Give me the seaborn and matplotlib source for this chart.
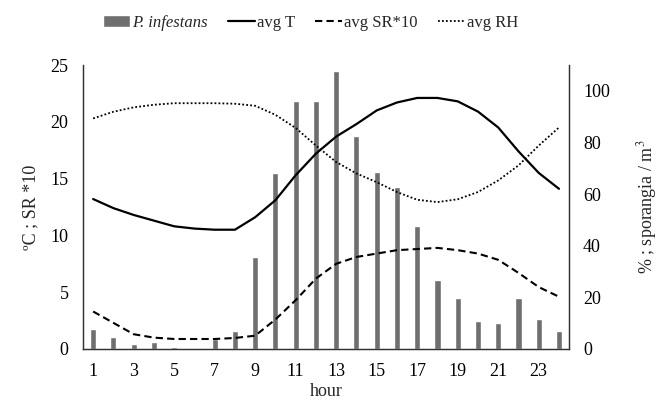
import matplotlib.pyplot as plt
import pandas as pd
import seaborn as sns

hours = list(range(1, 25))
sporangia = [7.7, 4.8, 1.9, 2.8, 0.9, 0.0, 3.7, 6.9, 35.6, 68.0, 95.9, 95.9,
             107.7, 82.6, 68.6, 62.9, 47.7, 26.9, 19.8, 10.7, 9.9, 19.8, 11.8, 6.9]
avg_t = [13.2, 12.4, 11.8, 11.3, 10.8, 10.6, 10.5, 10.5, 11.6, 13.1, 15.3, 17.2,
         18.7, 19.8, 21.0, 21.7, 22.1, 22.1, 21.8, 20.9, 19.5, 17.4, 15.5, 14.1]
avg_sr10 = [3.3, 2.3, 1.3, 1.0, 0.88, 0.88, 0.88, 0.97, 1.17, 2.6, 4.3, 6.2,
            7.5, 8.1, 8.4, 8.7, 8.8, 8.9, 8.7, 8.4, 7.85, 6.7, 5.45, 4.6]
avg_rh = [89.3, 91.9, 93.6, 94.6, 95.2, 95.2, 95.2, 95.0, 94.2, 90.7, 85.6, 78.8,
          72.4, 68.0, 64.6, 60.8, 57.8, 56.9, 58.0, 60.8, 65.3, 71.1, 78.8, 85.8]

df = pd.DataFrame({"hour": hours, "sporangia": sporangia, "T": avg_t,
                   "SR": avg_sr10, "RH": avg_rh})

sns.set_theme(style="white")
plt.rcParams["font.family"] = ["Liberation Serif", "DejaVu Serif"]
plt.rcParams["mathtext.fontset"] = "stix"

fig = plt.figure(figsize=(6.61, 4.05), dpi=100)
ax = fig.add_axes([0.1256, 0.1383, 0.7354, 0.7012])
ax2 = ax.twinx()

# bars + RH on the right axis
sns.barplot(data=df, x="hour", y="sporangia", native_scale=True, width=0.3,
            color="#6f6f6f", saturation=1, ax=ax2, label="P. infestans")
sns.lineplot(data=df, x="hour", y="RH", ax=ax2, color="black", lw=1.3,
             linestyle=(0, (1, 1.2)), label="avg RH")

# temperature and radiation on the left axis
sns.lineplot(data=df, x="hour", y="T", ax=ax, color="black", lw=1.6, label="avg T")
sns.lineplot(data=df, x="hour", y="SR", ax=ax, color="black", lw=1.5,
             linestyle=(0, (3.5, 2)), label="avg SR*10")

ax.set_zorder(ax2.get_zorder() + 1)
ax.patch.set_visible(False)

ax.set_xlim(0.5, 24.5)
ax.set_ylim(0, 25)
ax2.set_ylim(0, 110)
ax.set_xticks(range(1, 24, 2))
ax.set_yticks(range(0, 26, 5))
ax2.set_yticks(range(0, 101, 20))

ax.set_xlabel("hour", fontsize=13, labelpad=2)
ax.set_ylabel("ºC ; SR *10", fontsize=13, labelpad=8)
ax2.set_ylabel("% ; sporangia / m$^3$", fontsize=13, labelpad=18)

for a in (ax, ax2):
    a.tick_params(length=0, labelsize=13, colors="black")
    for side in ("left", "right", "bottom"):
        a.spines[side].set_visible(True)
        a.spines[side].set_color("#333333")
        a.spines[side].set_linewidth(0.9)
    a.spines["top"].set_visible(False)
    a.grid(False)
ax.tick_params(axis="x", pad=10)
ax.tick_params(axis="y", pad=10.5)
ax2.tick_params(axis="y", pad=10)

handles, labels = [], []
for a in (ax, ax2):
    h, l = a.get_legend_handles_labels()
    handles += h
    labels += l
    a.get_legend().remove()
lookup = dict(zip(labels, handles))
order = ["P. infestans", "avg T", "avg SR*10", "avg RH"]
leg = fig.legend([lookup[k] for k in order], order, loc="upper center",
                 bbox_to_anchor=(0.47, 1.0), ncol=4, frameon=False, fontsize=12,
                 handlelength=1.6, handletextpad=0.15, columnspacing=1.2)
leg.get_texts()[0].set_fontstyle("italic")

fig.savefig("out.png", dpi=100)
